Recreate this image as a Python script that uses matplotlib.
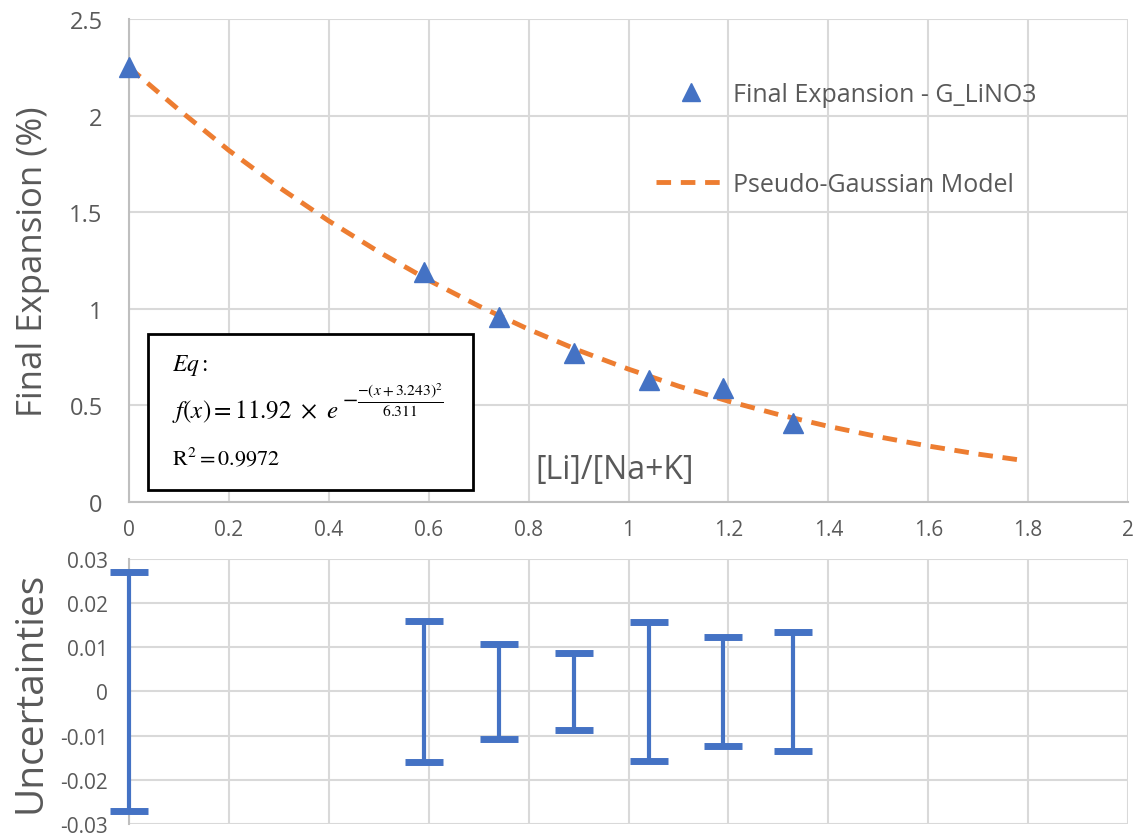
import matplotlib.pyplot as plt
from matplotlib.patches import Rectangle

plt.rcParams['font.family'] = ['Open Sans', 'DejaVu Sans']
plt.rcParams['mathtext.fontset'] = 'stix'

# measured data
ratio = [0, 0.59, 0.74, 0.89, 1.04, 1.19, 1.33]
expansion = [2.25, 1.19, 0.96, 0.77, 0.63, 0.59, 0.41]
uncert = [0.027, 0.016, 0.0108, 0.0087, 0.0157, 0.0123, 0.0134]

# model curve
model_x = [0, 0.1, 0.2, 0.3, 0.4, 0.5, 0.6, 0.7, 0.8, 0.9, 1.0,
           1.1, 1.2, 1.3, 1.4, 1.5, 1.6, 1.7, 1.78]
model_y = [2.25, 2.03, 1.82, 1.63, 1.455, 1.295, 1.148, 1.015, 0.894, 0.785, 0.688,
           0.60, 0.522, 0.453, 0.392, 0.338, 0.29, 0.248, 0.219]

xticks = [0, 0.2, 0.4, 0.6, 0.8, 1, 1.2, 1.4, 1.6, 1.8, 2]
xticklabels = ['0', '0.2', '0.4', '0.6', '0.8', '1', '1.2', '1.4', '1.6', '1.8', '2']

blue = '#4472C4'
orange = '#ED7D31'
grid = '#D9D9D9'
txt = '#595959'

fig = plt.figure(figsize=(11.4, 8.37), dpi=100)
ax = fig.add_axes([0.1132, 0.399, 0.8763, 0.577])
ax2 = fig.add_axes([0.1132, 0.0143, 0.8763, 0.3167])

# top chart
ax.plot(model_x, model_y, '--', color=orange, lw=3.5, dashes=(3, 2),
        label='Pseudo-Gaussian Model', zorder=3)
ax.plot(ratio, expansion, '^', color=blue, ms=14, ls='none', clip_on=False,
        label='Final Expansion - G_LiNO3', zorder=4)
ax.set_xlim(0, 2)
ax.set_ylim(0, 2.5)
ax.set_xticks(xticks)
ax.set_xticklabels(xticklabels)
ax.set_yticks([0, 0.5, 1, 1.5, 2, 2.5])
ax.set_yticklabels(['0', '0.5', '1', '1.5', '2', '2.5'])
ax.grid(True, color=grid, lw=1.5)
ax.set_axisbelow(True)
for s in ['top', 'right']:
    ax.spines[s].set_visible(False)
ax.spines['left'].set_color('#BFBFBF')
ax.spines['bottom'].set_color('#BFBFBF')
ax.spines['left'].set_linewidth(1.5)
ax.spines['bottom'].set_linewidth(1.5)
ax.tick_params(axis='x', length=0, labelsize=15, colors=txt, pad=12)
ax.tick_params(axis='y', length=0, labelsize=17, colors=txt, pad=19)
ax.set_ylabel('Final Expansion (%)', fontsize=25, color=txt, labelpad=14)
ax.text(1.13, 0.17, '[Li]/[Na+K]', fontsize=23, color=txt, ha='right', va='center')

h, l = ax.get_legend_handles_labels()
leg = ax.legend(h[::-1], l[::-1], loc='upper left', bbox_to_anchor=(0.527, 0.87),
                frameon=False, fontsize=18, labelspacing=2.6, handlelength=2.8,
                handletextpad=0.3, borderpad=0, borderaxespad=0, markerscale=0.9)
for t in leg.get_texts():
    t.set_color(txt)

# equation box
ax.add_patch(Rectangle((0.019, 0.025), 0.325, 0.323, transform=ax.transAxes,
                       fill=True, facecolor='white', edgecolor='black', lw=2, zorder=5))
ax.text(0.043, 0.284, r'$Eq:$', transform=ax.transAxes, fontsize=17, zorder=6, va='center')
ax.text(0.043, 0.19, r'$f(x) = 11.92\ \times\ e$',
        transform=ax.transAxes, fontsize=18, zorder=6, va='center')
ax.text(0.213, 0.212, r'$-\frac{-(x+3.243)^2}{6.311}$',
        transform=ax.transAxes, fontsize=16, zorder=6, va='center')
ax.text(0.043, 0.093, r'$\mathrm{R^2 = 0.9972}$', transform=ax.transAxes,
        fontsize=16, zorder=6, va='center')

# bottom chart
eb = ax2.errorbar(ratio, [0] * len(ratio), yerr=uncert, fmt='none', ecolor=blue,
                  elinewidth=3, capsize=14, capthick=5)
for part in list(eb.lines[1]) + list(eb.lines[2]):
    part.set_clip_on(False)
    part.set_zorder(5)
ax2.set_xlim(0, 2)
ax2.set_ylim(-0.03, 0.03)
ax2.set_xticks(xticks)
ax2.set_xticklabels([])
ax2.set_yticks([-0.03, -0.02, -0.01, 0, 0.01, 0.02, 0.03])
ax2.set_yticklabels(['-0.03', '-0.02', '-0.01', '0', '0.01', '0.02', '0.03'])
ax2.grid(True, color=grid, lw=1.5)
ax2.set_axisbelow(True)
for s in ['top', 'right', 'bottom']:
    ax2.spines[s].set_visible(False)
ax2.spines['left'].set_color('#BFBFBF')
ax2.spines['left'].set_linewidth(1.5)
ax2.tick_params(axis='both', length=0, labelsize=15, colors=txt, pad=15)
ax2.set_ylabel('Uncertainties', fontsize=28, color=txt, labelpad=8)

plt.savefig('out.png', dpi=100)
